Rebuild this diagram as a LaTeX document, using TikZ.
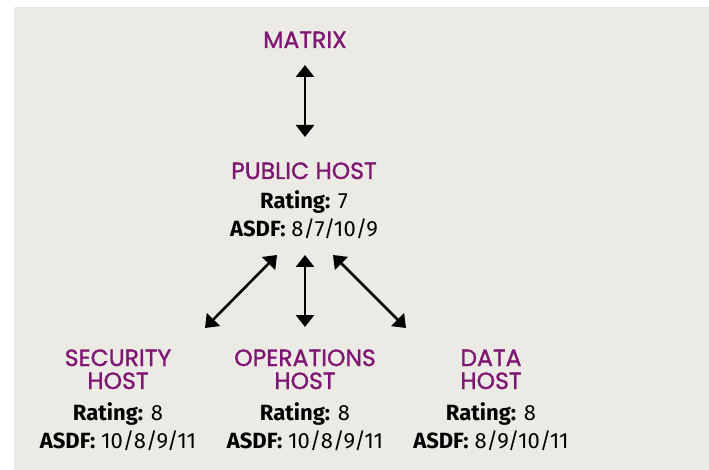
\documentclass[tikz,border=0pt]{standalone}
\usepackage{fontspec}
\setmainfont{Fira Sans}
\newfontfamily\headfont[FakeBold=1.2]{Poppins}
\newfontfamily\bodyfont{Fira Sans}
\newfontfamily\bodyboldfont{Fira Sans Bold}
\usetikzlibrary{arrows.meta}
\definecolor{panel}{HTML}{ECEAE5}
\definecolor{hpurple}{HTML}{7F1672}
\tikzset{
  head/.style={font=\headfont\fontsize{23.5}{24}\selectfont, text=hpurple, anchor=base, inner sep=0pt},
  body/.style={font=\bodyfont\fontsize{22}{24}\selectfont, anchor=base, inner sep=0pt},
  link/.style={line width=2.6pt, {Triangle[width=18pt,length=12pt]}-{Triangle[width=18pt,length=12pt]}},
}
\newcommand{\bb}[1]{{\bodyboldfont #1}}
\begin{document}
\begin{tikzpicture}[x=1pt,y=-1pt]
\fill[white] (0,0) rectangle (709,470);
\fill[panel] (13.7,6.7) rectangle (709,470);
\useasboundingbox (0,0) rectangle (709,470);

\node[head] (matrix) at (305,48) {MATRIX};
\node[head] (public) at (304,179) {PUBLIC HOST};
\node[body] (publicrating) at (304,209) {\bb{Rating:} 7};
\node[body] (publicasdf) at (304,237) {\bb{ASDF:} 8/7/10/9};

\node[head] (sec1) at (118,366) {SECURITY};
\node[head] (sec2) at (118,389) {HOST};
\node[head] (ops1) at (305,366) {OPERATIONS};
\node[head] (ops2) at (305,389) {HOST};
\node[head] (data1) at (491,366) {DATA};
\node[head] (data2) at (491,389) {HOST};

\node[body] (secrating) at (118,420) {\bb{Rating:} 8};
\node[body] (secasdf) at (118,448) {\bb{ASDF:} 10/8/9/11};
\node[body] (opsrating) at (305,420) {\bb{Rating:} 8};
\node[body] (opsasdf) at (305,448) {\bb{ASDF:} 10/8/9/11};
\node[body] (datarating) at (491,420) {\bb{Rating:} 8};
\node[body] (dataasdf) at (491,448) {\bb{ASDF:} 8/9/10/11};

\coordinate (m1) at (305,65);
\coordinate (m2) at (305,137);
\coordinate (pl) at (277,255);
\coordinate (pc) at (305,255);
\coordinate (pr) at (333,255);
\coordinate (sl) at (205,328);
\coordinate (sc) at (305,327);
\coordinate (sr) at (406,328);

\draw[link] (m1) -- (m2);
\draw[link] (pl) -- (sl);
\draw[link] (pc) -- (sc);
\draw[link] (pr) -- (sr);
\end{tikzpicture}
\end{document}
